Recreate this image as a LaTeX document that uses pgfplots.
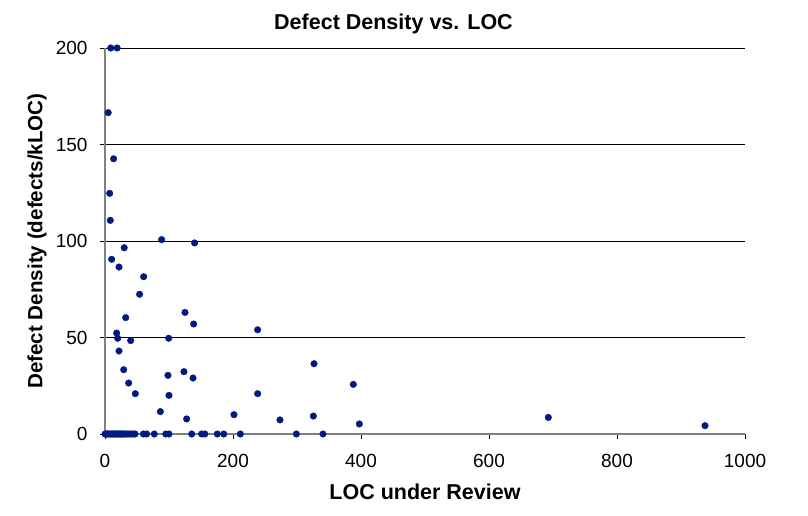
\documentclass[border=0pt]{standalone}
\usepackage{fontspec}
\setmainfont{Liberation Sans}
\usepackage{pgfplots}
\pgfplotsset{compat=1.18}
\definecolor{dotblue}{RGB}{0,26,130}
\definecolor{axgray}{RGB}{128,128,128}

\begin{document}
\begin{tikzpicture}
\path[use as bounding box] (0pt,0pt) rectangle (808pt,516pt);
\begin{axis}[
  at={(105pt,82pt)}, anchor=south west,
  scale only axis,
  width=640pt, height=386pt,
  xmin=0, xmax=1000, ymin=0, ymax=200,
  xtick={0,200,...,1000},
  ytick={0,50,...,200},
  xtick pos=bottom, ytick pos=left,
  tick align=outside,
  major tick length=5pt,
  tick style={black, line width=0.8pt},
  axis line style={axgray, line width=1.3pt},
  axis x line*=bottom, axis y line*=left,
  ymajorgrids=true,
  grid style={black, line width=0.9pt},
  tick label style={font=\fontsize{19}{19}\selectfont},
  /pgf/number format/assume math mode=true,
  /pgf/number format/1000 sep={},
  xticklabel style={yshift=-12pt},
  yticklabel style={xshift=-9pt},
  clip=false,
]
\addplot[only marks, mark=*, mark size=3.3pt, color=dotblue] coordinates {
  (9,200) (19,200) (5,166.5) (13.5,142.6) (7.3,124.7) (8.3,110.7)
  (88.5,100.7) (140,99) (30,96.5) (10.4,90.5) (21.9,86.5) (60.4,81.5)
  (54,72.4) (125,63) (32.3,60.3) (138.5,57) (238.5,54) (18.2,52.3)
  (19.8,49.6) (40.1,48.4) (99.5,49.6) (21.9,43) (29.2,33.3) (98.4,30.4)
  (123.4,32.3) (137.5,29) (37,26.4) (47.4,20.9) (100,20) (238.5,20.9)
  (86.5,11.6) (127.6,7.8) (201.5,10) (326.6,36.4) (388,25.7) (273.4,7.3)
  (325.5,9.3) (397.4,5.2) (692.7,8.6) (937.5,4.3)
  (0,0) (2,0) (4,0) (6,0) (8,0) (10,0) (12,0) (14,0) (16,0) (18,0)
  (20,0) (22,0) (24,0) (26,0) (28,0) (30,0) (32,0) (35,0) (38,0) (41,0)
  (44,0) (47,0) (60,0) (65,0) (77,0) (95,0) (100,0) (135.5,0) (151,0)
  (156,0) (175.5,0) (185.5,0) (211.5,0) (299,0) (340.6,0)
};
\end{axis}
\node[font=\bfseries\fontsize{21.5}{21.5}\selectfont, anchor=base] at (393.5pt,486pt) {Defect Density vs. LOC};
\node[font=\bfseries\fontsize{21.5}{21.5}\selectfont, anchor=base] at (425pt,16pt) {LOC under Review};
\node[font=\bfseries\fontsize{20.6}{20.6}\selectfont, rotate=90] at (37pt,275pt) {Defect Density (defects/kLOC)};
\end{tikzpicture}
\end{document}
